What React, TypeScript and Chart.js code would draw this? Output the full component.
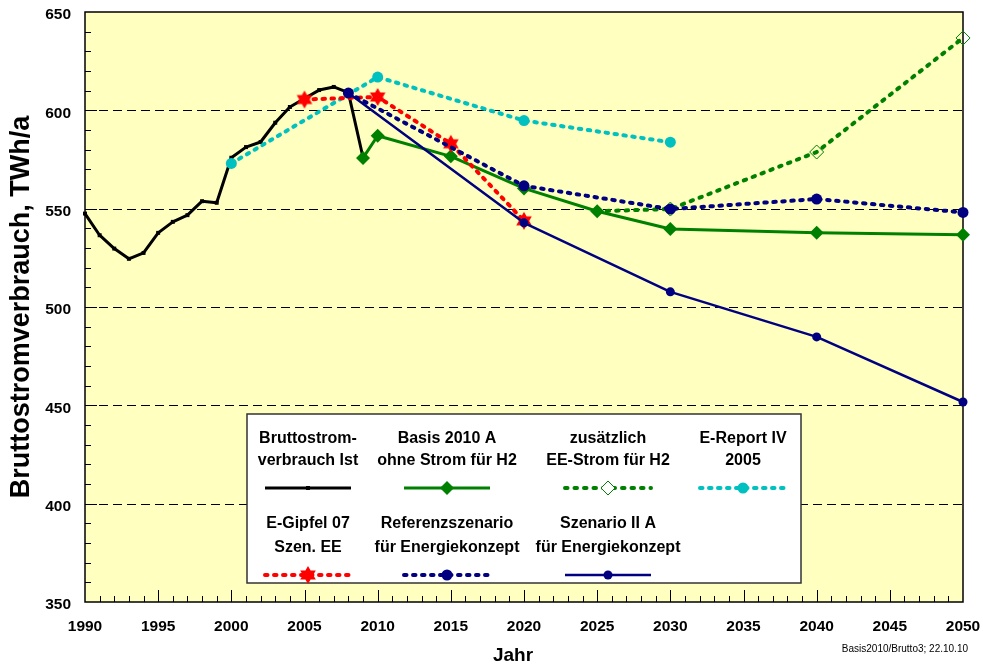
import React, { useEffect, useRef } from "react";
import { Chart, registerables } from "chart.js";

Chart.register(...registerables);

const FONT = '"Liberation Sans", Arial, Helvetica, sans-serif';

// ---------- data ----------
const istYears = [1990, 1991, 1992, 1993, 1994, 1995, 1996, 1997, 1998, 1999, 2000, 2001, 2002, 2003, 2004, 2005, 2006, 2007, 2008, 2009];
const istValues = [547.5, 536.5, 529.7, 524.5, 527.5, 537.7, 543.3, 546.7, 553.8, 553, 575.9, 581.3, 583.9, 593.7, 601.7, 606, 610.3, 611.9, 609, 576];

const basisYears = [2009, 2010, 2015, 2020, 2025, 2030, 2040, 2050];
const basisValues = [575.8, 587.1, 576.6, 560.3, 548.7, 539.7, 537.7, 536.8];

const zusatzYears = [2025, 2030, 2040, 2050];
const zusatzValues = [548.7, 549.8, 578.8, 636.8];

const reportYears = [2000, 2010, 2020, 2030];
const reportValues = [573, 616.9, 594.8, 583.8];

const gipfelYears = [2005, 2010, 2015, 2020];
const gipfelValues = [605.5, 606.8, 583, 543.8];

const referenzYears = [2008, 2020, 2030, 2040, 2050];
const referenzValues = [608.8, 561.6, 549.8, 554.9, 548.1];

const szenarioYears = [2008, 2020, 2030, 2040, 2050];
const szenarioValues = [608.8, 542.8, 507.7, 484.8, 451.7];

const seriesLabels = [
  "Bruttostrom-\nverbrauch Ist",
  "Basis 2010 A\nohne Strom für H2",
  "zusätzlich\nEE-Strom für H2",
  "E-Report IV\n2005",
  "E-Gipfel 07\nSzen. EE",
  "Referenzszenario\nfür Energiekonzept",
  "Szenario II A\nfür Energiekonzept",
];

const xMin = 1990;
const xMax = 2050;
const xStep = 5;
const yMin = 350;
const yMax = 650;
const yStep = 50;
const gridValues = [400, 450, 500, 550, 600];
const yTitle = "Bruttostromverbrauch, TWh/a";
const xTitle = "Jahr";
const footnote = "Basis2010/Brutto3; 22.10.10";

// ---------- styles ----------
const BG = "#FFFFC0";
const GREEN = "#008000";
const NAVY = "#000080";
const CYAN = "#00C0C0";
const RED = "#FF0000";

function makeStar(color: string, R: number, r: number) {
  const c = document.createElement("canvas");
  const s = Math.ceil(2 * R + 2);
  c.width = s;
  c.height = s;
  const ctx = c.getContext("2d")!;
  ctx.fillStyle = color;
  ctx.beginPath();
  for (let i = 0; i < 12; i++) {
    const a = -Math.PI / 2 + (i * Math.PI) / 6;
    const rad = i % 2 === 0 ? R : r;
    const px = s / 2 + rad * Math.cos(a);
    const py = s / 2 + rad * Math.sin(a);
    if (i === 0) ctx.moveTo(px, py);
    else ctx.lineTo(px, py);
  }
  ctx.closePath();
  ctx.fill();
  return c;
}

const toXY = (xs: number[], ys: number[]) => xs.map((x, i) => ({ x, y: ys[i] }));

type Marker = { kind: string; r: number; fill: string; stroke: string; bw: number; img?: HTMLCanvasElement };
type Sty = { color: string; width: number; dash: number[]; marker: Marker };

function drawMarker(ctx: CanvasRenderingContext2D, m: Marker, x: number, y: number) {
  ctx.save();
  ctx.setLineDash([]);
  if (m.kind === "img" && m.img) {
    ctx.drawImage(m.img, x - m.img.width / 2, y - m.img.height / 2);
    ctx.restore();
    return;
  }
  ctx.beginPath();
  if (m.kind === "circle") ctx.arc(x, y, m.r, 0, Math.PI * 2);
  else if (m.kind === "rectRot") {
    ctx.moveTo(x, y - m.r);
    ctx.lineTo(x + m.r, y);
    ctx.lineTo(x, y + m.r);
    ctx.lineTo(x - m.r, y);
    ctx.closePath();
  } else if (m.kind === "rect") {
    const s = m.r * Math.SQRT1_2;
    ctx.rect(x - s, y - s, 2 * s, 2 * s);
  }
  if (m.fill) {
    ctx.fillStyle = m.fill;
    ctx.fill();
  }
  if (m.bw > 0) {
    ctx.lineWidth = m.bw;
    ctx.strokeStyle = m.stroke;
    ctx.stroke();
  }
  ctx.restore();
}

export default function App() {
  const ref = useRef<HTMLCanvasElement | null>(null);

  useEffect(() => {
    if (!ref.current) return;
    const star = makeStar(RED, 9, 5.2);
    const styles: Sty[] = [
      { color: "#000", width: 3, dash: [], marker: { kind: "rect", r: 2.8, fill: "#000", stroke: "#000", bw: 0 } },
      { color: GREEN, width: 3, dash: [], marker: { kind: "rectRot", r: 7, fill: GREEN, stroke: GREEN, bw: 0 } },
      { color: GREEN, width: 4, dash: [2.5, 7], marker: { kind: "rectRot", r: 7, fill: "", stroke: GREEN, bw: 1 } },
      { color: CYAN, width: 4, dash: [2.5, 6.5], marker: { kind: "circle", r: 5.5, fill: CYAN, stroke: CYAN, bw: 0 } },
      { color: RED, width: 4, dash: [2.5, 6.5], marker: { kind: "img", r: 9, fill: RED, stroke: RED, bw: 0, img: star } },
      { color: NAVY, width: 4, dash: [2.5, 6.5], marker: { kind: "circle", r: 5.5, fill: NAVY, stroke: NAVY, bw: 0 } },
      { color: NAVY, width: 2.5, dash: [], marker: { kind: "circle", r: 4.5, fill: NAVY, stroke: NAVY, bw: 0 } },
    ];
    const seriesData = [
      toXY(istYears, istValues),
      toXY(basisYears, basisValues),
      toXY(zusatzYears, zusatzValues),
      toXY(reportYears, reportValues),
      toXY(gipfelYears, gipfelValues),
      toXY(referenzYears, referenzValues),
      toXY(szenarioYears, szenarioValues),
    ];
    const orders = [7, 4, 5, 6, 3, 2, 1];

    const datasets = seriesData.map((d, i) => {
      const s = styles[i];
      const m = s.marker;
      return {
        label: seriesLabels[i],
        data: d,
        borderColor: s.color,
        backgroundColor: s.color,
        borderWidth: s.width,
        borderDash: s.dash,
        borderCapStyle: s.dash.length ? "round" : "butt",
        borderJoinStyle: "round",
        tension: 0,
        fill: false,
        clip: false,
        order: orders[i],
        pointStyle: m.kind === "img" ? m.img : m.kind,
        pointRadius: i === 2 ? d.map((_, k) => (k === 0 ? 0 : m.r)) : m.r,
        pointBackgroundColor: m.fill || "rgba(0,0,0,0)",
        pointBorderColor: m.stroke,
        pointBorderWidth: m.bw,
        pointHoverRadius: m.r,
      };
    });

    const legendCols = [308, 447, 608, 743];
    const legendRows = [
      { t1: 438.6, t2: 461, s: 488 },
      { t1: 524, t2: 547.5, s: 575 },
    ];

    const deco = {
      id: "deco",
      beforeDraw(chart: any) {
        const { ctx, chartArea: a } = chart;
        ctx.save();
        ctx.fillStyle = "#fff";
        ctx.fillRect(0, 0, chart.width, chart.height);
        ctx.fillStyle = BG;
        ctx.fillRect(a.left, a.top, a.right - a.left, a.bottom - a.top);
        ctx.restore();
      },
      beforeDatasetsDraw(chart: any) {
        const { ctx, chartArea: a, scales } = chart;
        const x = scales.x;
        const y = scales.y;
        ctx.save();
        ctx.strokeStyle = "#000";
        ctx.lineWidth = 1;
        ctx.setLineDash([9, 5]);
        for (const v of gridValues) {
          const py = Math.round(y.getPixelForValue(v)) + 0.5;
          ctx.beginPath();
          ctx.moveTo(a.left, py);
          ctx.lineTo(a.right, py);
          ctx.stroke();
        }
        ctx.setLineDash([]);
        ctx.lineWidth = 1;
        for (let v = yMin + 10; v < yMax; v += 10) {
          const py = Math.round(y.getPixelForValue(v)) + 0.5;
          const len = v % 50 === 0 ? 12 : 6;
          ctx.beginPath();
          ctx.moveTo(a.left, py);
          ctx.lineTo(a.left + len, py);
          ctx.stroke();
        }
        for (let v = xMin + 1; v < xMax; v += 1) {
          const px = Math.round(x.getPixelForValue(v)) + 0.5;
          const len = v % 5 === 0 ? 12 : 6;
          ctx.beginPath();
          ctx.moveTo(px, a.bottom);
          ctx.lineTo(px, a.bottom - len);
          ctx.stroke();
        }
        ctx.lineWidth = 1.5;
        ctx.strokeRect(a.left, a.top, a.right - a.left, a.bottom - a.top);
        ctx.restore();
      },
      afterDatasetsDraw(chart: any) {
        const { ctx, chartArea: a } = chart;
        ctx.save();
        // legend box
        ctx.fillStyle = "#fff";
        ctx.fillRect(247, 414, 554, 169);
        ctx.strokeStyle = "#333";
        ctx.lineWidth = 1.5;
        ctx.strokeRect(247, 414, 554, 169);
        ctx.font = `bold 16px ${FONT}`;
        ctx.fillStyle = "#000";
        ctx.textAlign = "center";
        ctx.textBaseline = "middle";
        seriesLabels.forEach((lab, i) => {
          const cx = legendCols[i % 4];
          const row = legendRows[Math.floor(i / 4)];
          const lines = lab.split("\n");
          ctx.fillStyle = "#000";
          ctx.fillText(lines[0], cx, row.t1);
          if (lines[1]) ctx.fillText(lines[1], cx, row.t2);
          const s = styles[i];
          ctx.save();
          ctx.strokeStyle = s.color;
          ctx.lineWidth = s.width;
          ctx.setLineDash(s.dash);
          ctx.lineCap = s.dash.length ? "round" : "butt";
          ctx.beginPath();
          ctx.moveTo(cx - 43, row.s);
          ctx.lineTo(cx + 43, row.s);
          ctx.stroke();
          ctx.restore();
          const m = { ...s.marker };
          if (!m.fill) m.fill = "#fff";
          drawMarker(ctx, m, cx, row.s);
        });
        // titles
        ctx.fillStyle = "#000";
        ctx.save();
        ctx.translate(22, (a.top + a.bottom) / 2);
        ctx.rotate(-Math.PI / 2);
        ctx.font = `bold 27px ${FONT}`;
        ctx.textAlign = "center";
        ctx.textBaseline = "middle";
        ctx.fillText(yTitle, 0, 0);
        ctx.restore();
        ctx.font = `bold 19px ${FONT}`;
        ctx.textAlign = "center";
        ctx.textBaseline = "alphabetic";
        ctx.fillText(xTitle, 513, 661);
        ctx.font = `10px ${FONT}`;
        ctx.textAlign = "right";
        ctx.fillText(footnote, 968, 652);
        ctx.restore();
      },
    };

    const chart = new Chart(ref.current, {
      type: "line",
      data: { datasets: datasets as any },
      options: {
        responsive: false,
        animation: false,
        events: [],
        layout: { padding: { left: 0, top: 12, right: 20, bottom: 0 } },
        plugins: { legend: { display: false }, tooltip: { enabled: false } },
        scales: {
          x: {
            type: "linear",
            min: xMin,
            max: xMax,
            grid: { display: false, drawTicks: false },
            border: { display: false },
            ticks: {
              stepSize: xStep,
              autoSkip: false,
              maxRotation: 0,
              padding: 15,
              color: "#000",
              font: { family: FONT, size: 15.5, weight: "bold" },
              callback: (v: any) => String(v),
            },
            afterFit: (s: any) => {
              s.height = 63;
              s.paddingLeft = 0;
              s.paddingRight = 0;
            },
          },
          y: {
            type: "linear",
            min: yMin,
            max: yMax,
            grid: { display: false, drawTicks: false },
            border: { display: false },
            ticks: {
              stepSize: yStep,
              padding: 14,
              labelOffset: 3,
              color: "#000",
              font: { family: FONT, size: 15.5, weight: "bold" },
              callback: (v: any) => String(v),
            },
            afterFit: (s: any) => {
              s.width = 85;
              s.paddingTop = 0;
              s.paddingBottom = 0;
            },
          },
        },
      } as any,
      plugins: [deco],
    });
    return () => chart.destroy();
  }, []);

  return (
    <div style={{ position: "absolute", left: 0, top: 0, width: 983, height: 665, background: "#fff" }}>
      <canvas ref={ref} width={983} height={665} style={{ display: "block" }} />
    </div>
  );
}
